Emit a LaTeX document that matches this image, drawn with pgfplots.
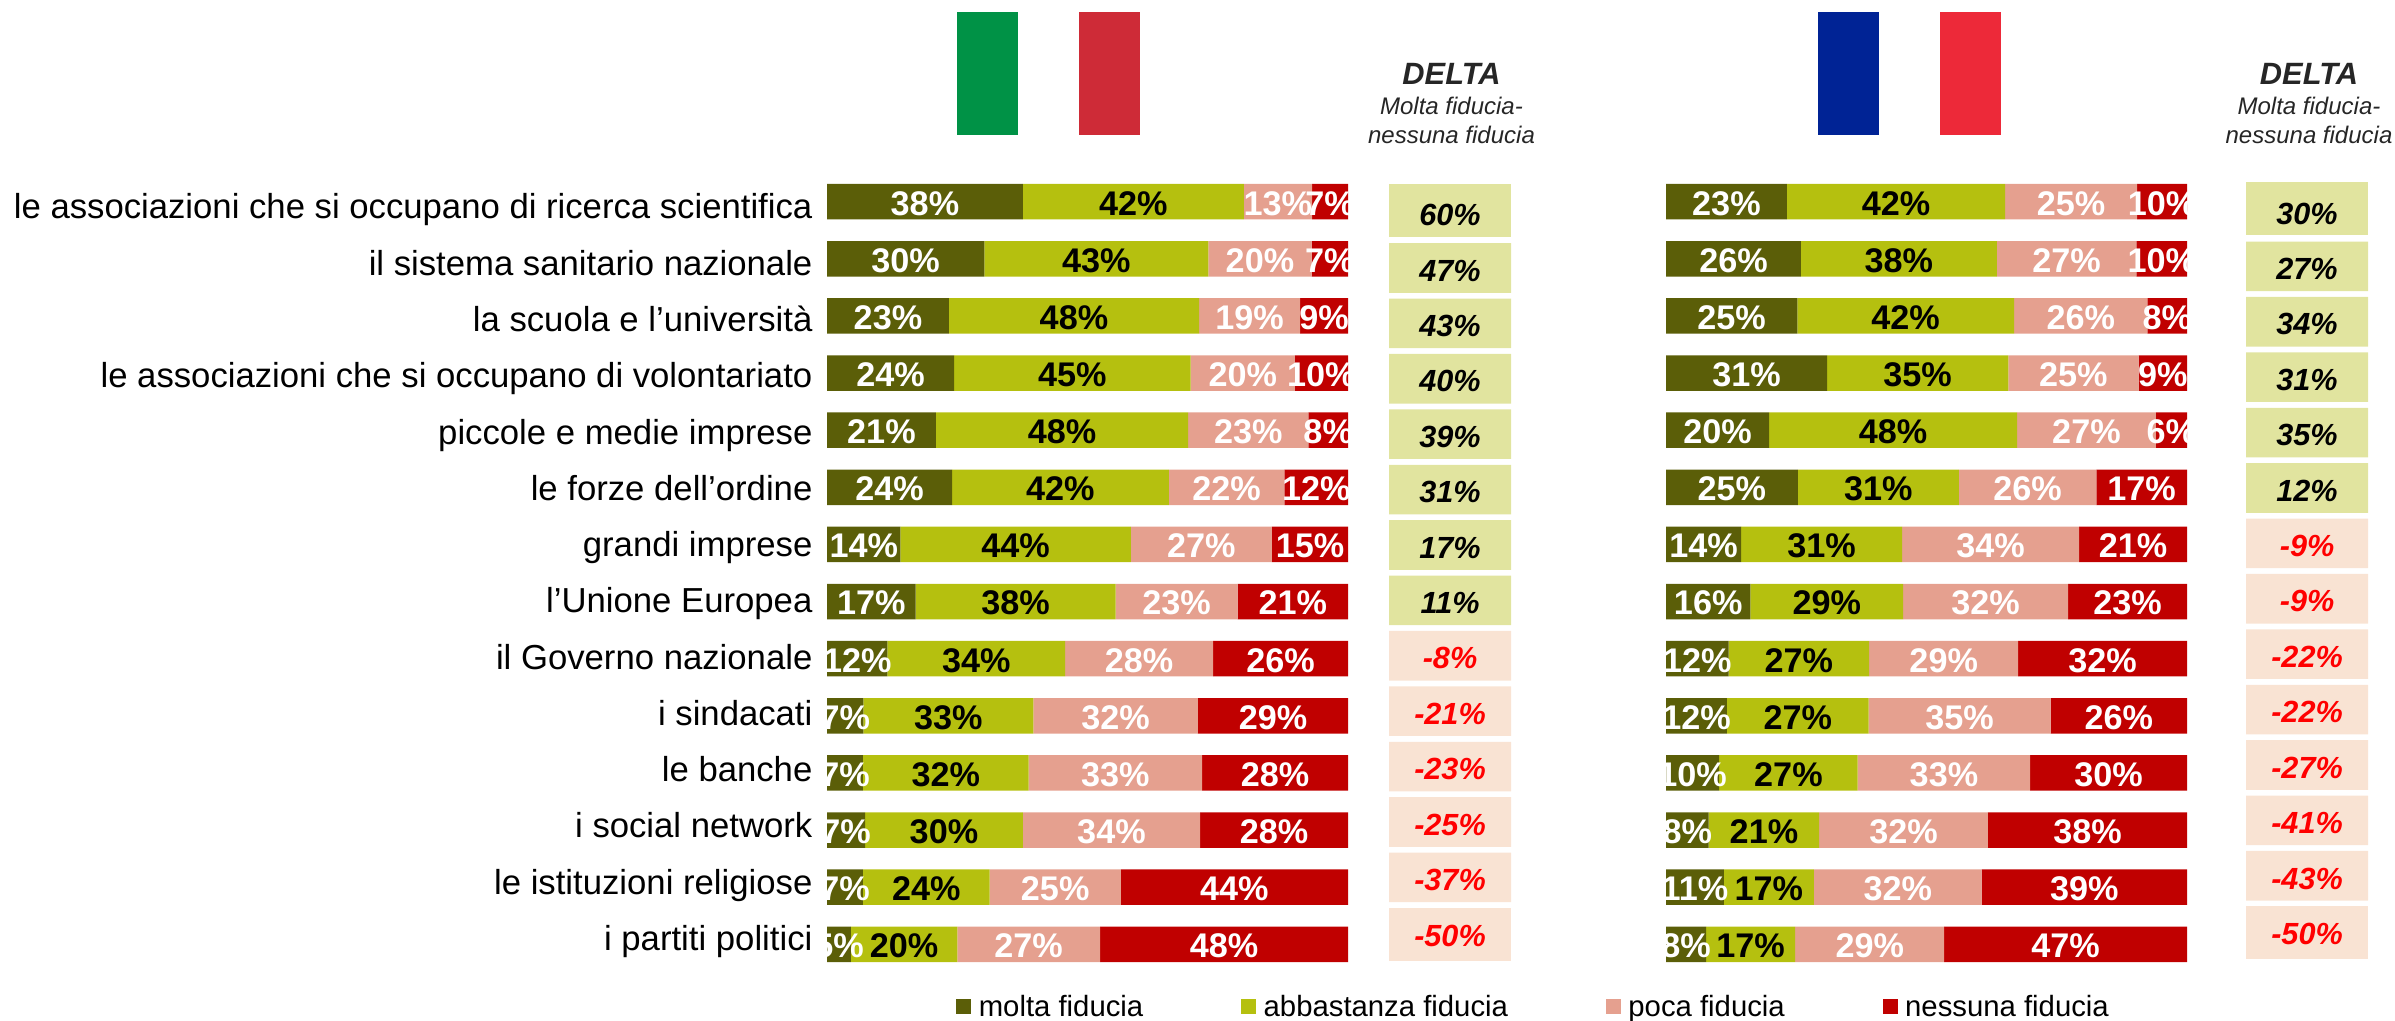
\documentclass[border=0pt]{standalone}
\usepackage{pgfplots}
\pgfplotsset{compat=1.18}
\usepackage{pgfplotstable}
\usepackage{fontspec}
\setmainfont{Liberation Sans}
\definecolor{cA}{HTML}{5B5E08}
\definecolor{cB}{HTML}{B5C00F}
\definecolor{cC}{HTML}{E5A08F}
\definecolor{cD}{HTML}{C00000}
\definecolor{dPos}{HTML}{E1E49F}
\definecolor{dNeg}{HTML}{F9E3D3}
\definecolor{hdr}{HTML}{262626}
\definecolor{itG}{HTML}{009246}
\definecolor{itR}{HTML}{CE2B37}
\definecolor{frB}{HTML}{002395}
\definecolor{frR}{HTML}{ED2939}

\pgfplotstableread{
r a b c d
0 37.6 42.4 13.1 6.9
1 30.2 43.0 19.8 7.0
2 23.4 48.0 19.4 9.2
3 24.4 45.4 20.0 10.2
4 20.9 48.4 23.1 7.6
5 24.0 41.6 22.2 12.2
6 14.1 44.2 27.1 14.6
7 17.0 38.4 23.4 21.2
8 11.6 34.1 28.4 25.9
9 7.0 32.6 31.6 28.8
10 6.9 31.8 33.3 28.0
11 7.3 30.3 34.0 28.4
12 6.9 24.3 25.2 43.6
13 4.6 20.4 27.4 47.6
}\italy
\pgfplotstableread{
r a b c d
0 23.2 41.9 25.3 9.6
1 25.9 37.6 26.8 9.7
2 25.2 41.6 25.6 7.6
3 30.9 34.8 25.0 9.3
4 19.8 47.6 26.6 6.0
5 25.3 30.9 26.4 17.4
6 14.4 30.9 34.0 20.7
7 16.2 29.3 31.7 22.8
8 12.0 27.0 28.6 32.4
9 11.7 27.2 34.9 26.2
10 10.2 26.6 33.1 30.1
11 8.2 21.2 32.4 38.2
12 11.1 17.3 32.2 39.4
13 7.7 17.1 28.6 46.6
}\france
\pgfplotstableread{
r pos d
0 0.5 60
1 0.5 47
2 0.5 43
3 0.5 40
4 0.5 39
5 0.5 31
6 0.5 17
7 0.5 11
}\italyPos
\pgfplotstableread{
r pos d
8 0.5 -8
9 0.5 -21
10 0.5 -23
11 0.5 -25
12 0.5 -37
13 0.5 -50
}\italyNeg
\pgfplotstableread{
r pos d
0 0.5 30
1 0.5 27
2 0.5 34
3 0.5 31
4 0.5 35
5 0.5 12
}\francePos
\pgfplotstableread{
r pos d
6 0.5 -9
7 0.5 -9
8 0.5 -22
9 0.5 -22
10 0.5 -27
11 0.5 -41
12 0.5 -43
13 0.5 -50
}\franceNeg

\pgfplotsset{
  barframe/.style={
    scale only axis, width=260.5pt, height=399.9pt, anchor=south west,
    hide axis, xmin=0, xmax=100, ymin=-0.5, ymax=13.5, y dir=reverse,
  },
  barpanel/.style={barframe, xbar stacked, bar width=17.75pt},
  seg/.style={fill=#1, draw=none},
  lab/.style={draw=none, mark=none, point meta=explicit,
    nodes near coords={\pgfmathprintnumber[fixed,precision=0,assume math mode=true]{\pgfplotspointmeta}\%},
    every node near coord/.style={anchor=center, inner sep=0pt, yshift=-0.8pt, text=#1,
      font=\fontsize{17.1}{18}\selectfont\bfseries}},
  deltapanel/.style={
    scale only axis, width=61pt, height=387.8pt, anchor=south west,
    hide axis, clip=false,
    xmin=0, xmax=1, ymin=-0.5, ymax=13.5, y dir=reverse,
  },
  dbar/.style={xbar, bar shift=0pt, bar width=24.8pt, draw=none, fill=#1},
  dbarbig/.style={xbar, bar shift=0pt, bar width=26.4pt, draw=none, fill=#1},
  dtext/.style={draw=none, mark=none, point meta=explicit symbolic,
    nodes near coords={\pgfplotspointmeta\%},
    every node near coord/.style={anchor=base, inner sep=0pt, yshift=-6.6pt, text=#1,
      font=\fontsize{15.3}{16}\selectfont\bfseries\itshape}},
}
\newcommand{\barlabels}[2]{%
\begin{axis}[barframe, at={(#1,24.05pt)}]
\addplot[lab=white] table[y=r, x expr={\thisrow{a}/2}, meta=a] {#2};
\addplot[lab=black] table[y=r, x expr={\thisrow{a}+\thisrow{b}/2}, meta=b] {#2};
\addplot[lab=white] table[y=r, x expr={\thisrow{a}+\thisrow{b}+\thisrow{c}/2}, meta=c] {#2};
\addplot[lab=white] table[y=r, x expr={\thisrow{a}+\thisrow{b}+\thisrow{c}+\thisrow{d}/2}, meta=d] {#2};
\end{axis}}

\begin{document}
\begin{tikzpicture}
\path[use as bounding box] (0pt,0pt) rectangle (1197.5pt,510.5pt);

% flags
\fill[itG] (478.5pt,443pt) rectangle (509pt,504.5pt);
\fill[itR] (539.5pt,443pt) rectangle (570pt,504.5pt);
\fill[frB] (909pt,443pt) rectangle (939.5pt,504.5pt);
\fill[frR] (970pt,443pt) rectangle (1000.5pt,504.5pt);

% delta headers
\foreach \cx in {725.75pt,1154.5pt}{
  \node[anchor=base,inner sep=0pt,text=hdr,font=\fontsize{15.4}{16}\selectfont\bfseries\itshape] at (\cx,468.35pt) {DELTA};
  \node[anchor=base,inner sep=0pt,text=hdr,font=\fontsize{12}{13}\selectfont\itshape] at (\cx,453pt) {Molta fiducia-};
  \node[anchor=base,inner sep=0pt,text=hdr,font=\fontsize{12}{13}\selectfont\itshape] at (\cx,438.5pt) {nessuna fiducia};
}

% row labels
\begin{axis}[
  at={(406.4pt,35.35pt)}, anchor=south west, scale only axis,
  width=10pt, height=365.65pt,
  xmin=0, xmax=1, ymin=0, ymax=13, y dir=reverse,
  axis line style={draw=none}, major tick length=0pt, xtick=\empty,
  ytick={0,...,13}, ytick pos=left,
  yticklabels={le associazioni che si occupano di ricerca scientifica,
    il sistema sanitario nazionale, la scuola e l’università,
    le associazioni che si occupano di volontariato, piccole e medie imprese,
    le forze dell’ordine, grandi imprese, l’Unione Europea, il Governo nazionale,
    i sindacati, le banche, i social network, le istituzioni religiose, i partiti politici},
  yticklabel style={anchor=base east, inner sep=0pt, font=\fontsize{17.35}{18}\selectfont},
]
\end{axis}

% Italy
\begin{axis}[barpanel, at={(413.5pt,24.05pt)},
  legend columns=4,
  legend image code/.code={\fill[#1] (0pt,-3.75pt) rectangle (7.5pt,3.75pt);},
  legend style={at={(0.2476,-0.0426)}, anchor=west, draw=none, fill=none, inner sep=0pt,
    font=\fontsize{14.65}{15}\selectfont,
    /tikz/every even column/.append style={column sep=47pt},
    /tikz/every odd column/.append style={column sep=1.7pt}},
]
\addplot[seg=cA] table[y=r,x=a] {\italy};
\addplot[seg=cB] table[y=r,x=b] {\italy};
\addplot[seg=cC] table[y=r,x=c] {\italy};
\addplot[seg=cD] table[y=r,x=d] {\italy};
\legend{molta fiducia,abbastanza fiducia,poca fiducia,nessuna fiducia}
\end{axis}
\barlabels{413.5pt}{\italy}

% France
\begin{axis}[barpanel, at={(833pt,24.05pt)}]
\addplot[seg=cA] table[y=r,x=a] {\france};
\addplot[seg=cB] table[y=r,x=b] {\france};
\addplot[seg=cC] table[y=r,x=c] {\france};
\addplot[seg=cD] table[y=r,x=d] {\france};
\end{axis}
\barlabels{833pt}{\france}

% Italy delta
\begin{axis}[deltapanel, at={(694.5pt,30.25pt)}]
\addplot[dbarbig=dPos] coordinates {(1,-0.04)};
\addplot[dbar=dPos] coordinates {(1,1) (1,2) (1,3) (1,4) (1,5) (1,6) (1,7)};
\addplot[dbar=dNeg] coordinates {(1,8) (1,9) (1,10) (1,11) (1,12)};
\addplot[dbarbig=dNeg] coordinates {(1,13.03)};
\addplot[dtext=black] table[y=r,x=pos,meta=d] {\italyPos};
\addplot[dtext={red}] table[y=r,x=pos,meta=d] {\italyNeg};
\end{axis}

% France delta
\begin{axis}[deltapanel, at={(1123pt,31.05pt)}]
\addplot[dbarbig=dPos] coordinates {(1,-0.04)};
\addplot[dbar=dPos] coordinates {(1,1) (1,2) (1,3) (1,4) (1,5)};
\addplot[dbar=dNeg] coordinates {(1,6) (1,7) (1,8) (1,9) (1,10) (1,11) (1,12)};
\addplot[dbarbig=dNeg] coordinates {(1,13.03)};
\addplot[dtext=black] table[y=r,x=pos,meta=d] {\francePos};
\addplot[dtext={red}] table[y=r,x=pos,meta=d] {\franceNeg};
\end{axis}
\end{tikzpicture}
\end{document}
